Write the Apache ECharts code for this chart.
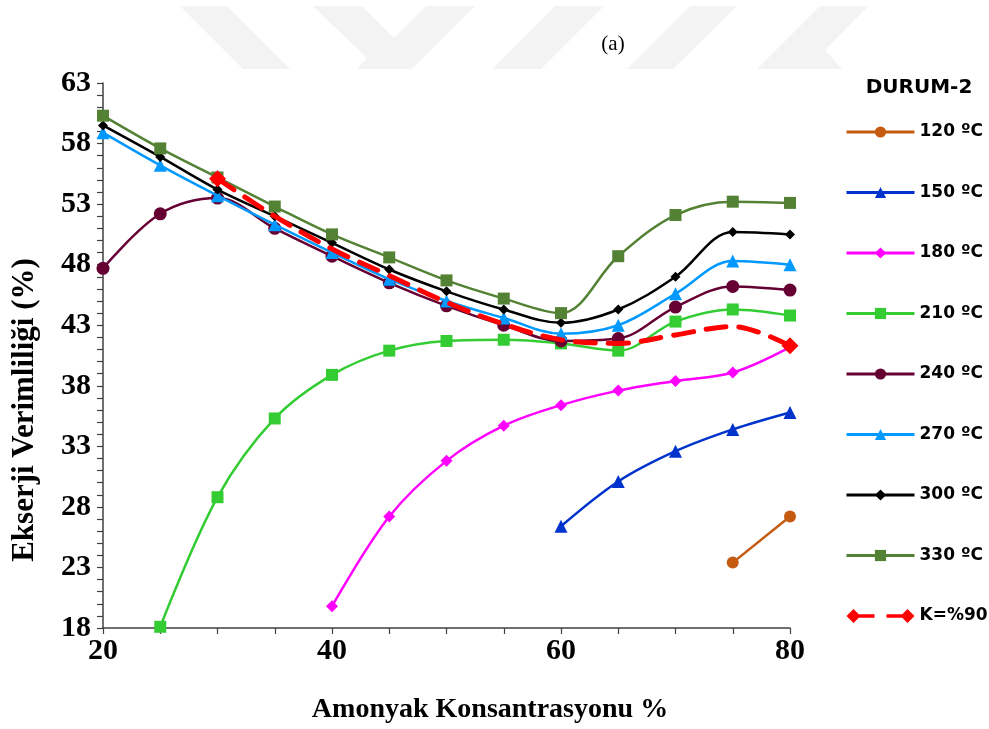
<!DOCTYPE html>
<html>
<head>
<meta charset="utf-8">
<script src="https://cdn.jsdelivr.net/npm/echarts@6/dist/echarts.min.js"></script>
<style>
  html, body { margin: 0; padding: 0; background: #ffffff; }
  #chart { width: 989px; height: 729px; }
</style>
</head>
<body>
<div id="chart"></div>
<script>
// Ammonia concentration (%) on the x axis
const concentration = [20, 25, 30, 35, 40, 45, 50, 55, 60, 65, 70, 75, 80];

// Exergy efficiency (%) per generator temperature, aligned with `concentration`
const t120 = [null, null, null, null, null, null, null, null, null, null, null, 23.4, 27.2];
const t150 = [null, null, null, null, null, null, null, null, 26.4, 30.1, 32.6, 34.4, 35.8];
const t180 = [null, null, null, null, 19.8, 27.2, 31.8, 34.7, 36.4, 37.6, 38.4, 39.1, 41.2];
const t210 = [null, 18.1, 28.8, 35.3, 38.9, 40.9, 41.7, 41.8, 41.5, 40.9, 43.3, 44.3, 43.8];
const t240 = [47.7, 52.2, 53.5, 51.0, 48.7, 46.5, 44.6, 43.0, 41.7, 41.9, 44.5, 46.2, 45.9];
const t270 = [58.9, 56.2, 53.7, 51.3, 49.0, 46.8, 45.0, 43.6, 42.3, 43.0, 45.6, 48.3, 48.0];
const t300 = [59.5, 56.9, 54.2, 52.0, 49.8, 47.6, 45.8, 44.3, 43.2, 44.3, 47.0, 50.7, 50.5];
const t330 = [60.3, 57.6, 55.2, 52.8, 50.5, 48.6, 46.7, 45.2, 44.0, 48.7, 52.1, 53.2, 53.1];
const k90  = [null, null, 55.1, 52.0, 49.3, 47.1, 44.9, 43.1, 41.8, 41.5, 42.2, 42.9, 41.3];

const seriesNames = ['120 ºC', '150 ºC', '180 ºC', '210 ºC', '240 ºC', '270 ºC', '300 ºC', '330 ºC', 'K=%90'];
const xTickLabels = [20, 40, 60, 80];
const yTickLabels = [18, 23, 28, 33, 38, 43, 48, 53, 58, 63];

// Visual style for each temperature curve
const styles = [
  { color: '#C55A11', symbol: 'circle',   size: 12 },
  { color: '#0033CC', symbol: 'triangle', size: 13 },
  { color: '#FF00FF', symbol: 'diamond',  size: 12 },
  { color: '#33CC33', symbol: 'rect',     size: 12 },
  { color: '#660033', symbol: 'circle',   size: 13 },
  { color: '#0099FF', symbol: 'triangle', size: 13 },
  { color: '#000000', symbol: 'diamond',  size: 10 },
  { color: '#548235', symbol: 'rect',     size: 12 }
];
const curves = [t120, t150, t180, t210, t240, t270, t300, t330];

function toPairs(values) {
  return values
    .map((v, i) => (v === null ? null : [concentration[i], v]))
    .filter(p => p !== null);
}

const series = curves.map((vals, i) => ({
  name: seriesNames[i],
  type: 'line',
  data: toPairs(vals),
  smooth: 0.35,
  symbol: styles[i].symbol,
  symbolSize: styles[i].size,
  showAllSymbol: true,
  itemStyle: { color: styles[i].color },
  lineStyle: { color: styles[i].color, width: 2.5 },
  emphasis: { disabled: true },
  z: 2 + i
}));

// Dashed K=%90 line: diamonds only at its two ends
const kPairs = toPairs(k90);
series.push({
  name: seriesNames[8],
  type: 'line',
  data: kPairs.map((p, i) => ({
    value: p,
    symbol: (i === 0 || i === kPairs.length - 1) ? 'diamond' : 'none'
  })),
  smooth: 0.35,
  symbolSize: 17,
  showAllSymbol: true,
  itemStyle: { color: '#FF0000' },
  lineStyle: { color: '#FF0000', width: 5, type: [20, 13], cap: 'round' },
  emphasis: { disabled: true },
  z: 20
});

const legendKIcon = 'path://M0,7L7,0L14,7L7,14Z M12,5.3H28V8.7H12Z M40,5.3H56V8.7H40Z M54,7L61,0L68,7L61,14Z';

const serif = '"Liberation Serif", "Times New Roman", serif';
const sans = '"DejaVu Sans", sans-serif';
const emblemFill = '#f3f3f3';

const option = {
  animation: false,
  backgroundColor: '#ffffff',
  grid: { left: 103, right: 199, top: 83, bottom: 101, containLabel: false },
  xAxis: {
    type: 'value',
    min: 20,
    max: 80,
    interval: 5,
    axisLine: { show: true, lineStyle: { color: '#404040', width: 1.5 } },
    axisTick: { show: true, length: 6, lineStyle: { color: '#404040', width: 1.2 } },
    splitLine: { show: false },
    axisLabel: {
      margin: 8,
      fontFamily: serif,
      fontWeight: 'bold',
      fontSize: 30,
      color: '#000',
      formatter: v => (xTickLabels.indexOf(v) >= 0 ? String(v) : '')
    }
  },
  yAxis: {
    type: 'value',
    min: 18,
    max: 63,
    interval: 1,
    axisLine: { show: true, lineStyle: { color: '#404040', width: 1.5 } },
    axisTick: { show: true, length: 6, lineStyle: { color: '#404040', width: 1.2 } },
    splitLine: { show: false },
    axisLabel: {
      margin: 12,
      fontFamily: serif,
      fontWeight: 'bold',
      fontSize: 30,
      color: '#000',
      formatter: v => (yTickLabels.indexOf(v) >= 0 ? String(v) : '')
    }
  },
  legend: {
    orient: 'vertical',
    left: 840,
    top: 117,
    itemWidth: 68,
    itemHeight: 14,
    itemGap: 40.5,
    selectedMode: false,
    lineStyle: { width: 3 },
    data: seriesNames.map((n, i) => (i === 8 ? { name: n, icon: legendKIcon } : { name: n })),
    textStyle: {
      fontFamily: sans,
      fontWeight: 'bold',
      fontSize: 17,
      lineHeight: 20,
      color: '#000'
    }
  },
  graphic: [
    // light grey emblem band at the top of the page
    { type: 'polygon', z: -10, silent: true, shape: { points: [[180, 6], [227, 6], [290, 69], [243, 69]] }, style: { fill: emblemFill } },
    { type: 'polygon', z: -10, silent: true, shape: { points: [[313, 6], [362, 6], [394, 38], [426, 6], [475, 6], [412, 69], [357, 69], [367, 58]] }, style: { fill: emblemFill } },
    { type: 'polygon', z: -10, silent: true, shape: { points: [[555, 6], [604, 6], [541, 69], [492, 69]] }, style: { fill: emblemFill } },
    { type: 'polygon', z: -10, silent: true, shape: { points: [[690, 6], [737, 6], [673, 69], [627, 69]] }, style: { fill: emblemFill } },
    { type: 'polygon', z: -10, silent: true, shape: { points: [[820, 6], [868, 6], [825, 50], [842, 69], [757, 69]] }, style: { fill: emblemFill } },
    {
      type: 'text', x: 613, y: 44, silent: true,
      style: { text: '(a)', fontFamily: serif, fontSize: 21, fill: '#000', align: 'center', verticalAlign: 'middle' }
    },
    {
      type: 'text', x: 919, y: 88, silent: true,
      style: { text: 'DURUM-2', fontFamily: sans, fontWeight: 'bold', fontSize: 20, fill: '#000', align: 'center', verticalAlign: 'middle' }
    },
    {
      type: 'text', x: 490, y: 710, silent: true,
      style: { text: 'Amonyak Konsantrasyonu %', fontFamily: serif, fontWeight: 'bold', fontSize: 28, fill: '#000', align: 'center', verticalAlign: 'middle' }
    },
    {
      type: 'text', x: 25, y: 410, rotation: Math.PI / 2, silent: true,
      style: { text: 'Ekserji Verimliliği (%)', fontFamily: serif, fontWeight: 'bold', fontSize: 31, fill: '#000', align: 'center', verticalAlign: 'middle' }
    }
  ],
  series: series
};

const chart = echarts.init(document.getElementById('chart'), null, { renderer: 'canvas' });
chart.setOption(option);
</script>
</body>
</html>
